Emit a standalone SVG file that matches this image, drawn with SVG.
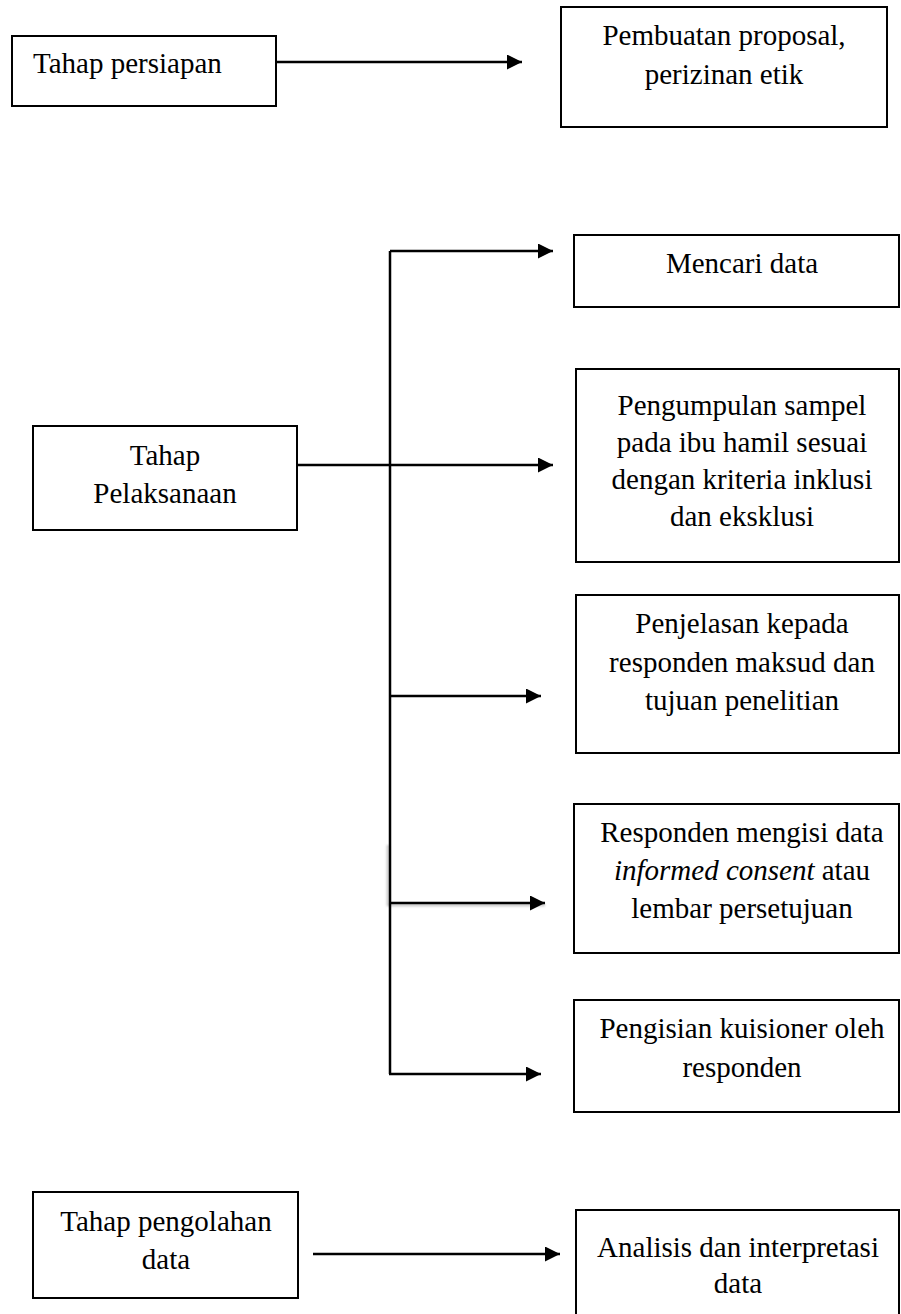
<svg xmlns="http://www.w3.org/2000/svg" width="901" height="1314" viewBox="0 0 901 1314">
  <style>
    .box { fill: #ffffff; stroke: #000000; stroke-width: 2; }
    .lbl { font-family: "Liberation Serif", "Times New Roman", serif; font-size: 29px; fill: #000000; }
    .mid { text-anchor: middle; }
    .wire { fill: none; stroke: #000000; stroke-width: 2.5; }
    .shadow { fill: none; stroke: #9a9a9a; stroke-width: 2.5; opacity: 0.6; }
  </style>
  <defs>
    <marker id="head" viewBox="0 0 15 15" refX="15" refY="7.5" markerWidth="15" markerHeight="15" markerUnits="userSpaceOnUse" orient="auto">
      <path d="M0,0 L15,7.5 L0,15 Z" fill="#000000"/>
    </marker>
    <filter id="soft" x="-10%" y="-50%" width="120%" height="200%">
      <feGaussianBlur stdDeviation="1.2"/>
    </filter>
  </defs>

  <rect width="901" height="1314" fill="#ffffff"/>

  <!-- connectors -->
  <g id="connectors">
    <!-- faint shadow on the fourth branch -->
    <path class="shadow" filter="url(#soft)" d="M388,845 L388,905 L545,905"/>
    <!-- preparation stage -->
    <path class="wire" d="M276,62 L522,62" marker-end="url(#head)"/>
    <!-- implementation trunk -->
    <path class="wire" d="M390,251 L390,1074"/>
    <path class="wire" d="M390,251 L553,251" marker-end="url(#head)"/>
    <path class="wire" d="M297,465 L553,465" marker-end="url(#head)"/>
    <path class="wire" d="M390,696 L541,696" marker-end="url(#head)"/>
    <path class="wire" d="M390,903 L545,903" marker-end="url(#head)"/>
    <path class="wire" d="M389,1074 L541,1074" marker-end="url(#head)"/>
    <!-- data processing stage -->
    <path class="wire" d="M313,1254 L560,1254" marker-end="url(#head)"/>
  </g>

  <g id="tahap-persiapan">
    <rect class="box" x="12" y="36" width="264" height="70"/>
    <text class="lbl" x="33" y="73">Tahap persiapan</text>
  </g>

  <g id="pembuatan-proposal">
    <rect class="box" x="561" y="7" width="326" height="120"/>
    <text class="lbl mid" x="724" y="45">Pembuatan proposal,</text>
    <text class="lbl mid" x="724" y="84">perizinan etik</text>
  </g>

  <g id="tahap-pelaksanaan">
    <rect class="box" x="33" y="426" width="264" height="104"/>
    <text class="lbl mid" x="165" y="465">Tahap</text>
    <text class="lbl mid" x="165" y="503">Pelaksanaan</text>
  </g>

  <g id="mencari-data">
    <rect class="box" x="574" y="235" width="325" height="72"/>
    <text class="lbl mid" x="742" y="273">Mencari data</text>
  </g>

  <g id="pengumpulan-sampel">
    <rect class="box" x="576" y="369" width="323" height="193"/>
    <text class="lbl mid" x="742" y="415">Pengumpulan sampel</text>
    <text class="lbl mid" x="742" y="452">pada ibu hamil sesuai</text>
    <text class="lbl mid" x="742" y="489">dengan kriteria inklusi</text>
    <text class="lbl mid" x="742" y="526">dan eksklusi</text>
  </g>

  <g id="penjelasan">
    <rect class="box" x="576" y="595" width="323" height="158"/>
    <text class="lbl mid" x="742" y="633">Penjelasan kepada</text>
    <text class="lbl mid" x="742" y="672">responden maksud dan</text>
    <text class="lbl mid" x="742" y="710">tujuan penelitian</text>
  </g>

  <g id="informed-consent">
    <rect class="box" x="574" y="804" width="325" height="149"/>
    <text class="lbl mid" x="742" y="842">Responden mengisi data</text>
    <text class="lbl mid" x="742" y="880"><tspan font-style="italic">informed consent</tspan> atau</text>
    <text class="lbl mid" x="742" y="918">lembar persetujuan</text>
  </g>

  <g id="pengisian-kuisioner">
    <rect class="box" x="574" y="1000" width="325" height="112"/>
    <text class="lbl mid" x="742" y="1038">Pengisian kuisioner oleh</text>
    <text class="lbl mid" x="742" y="1077">responden</text>
  </g>

  <g id="tahap-pengolahan">
    <rect class="box" x="33" y="1192" width="265" height="106"/>
    <text class="lbl mid" x="166" y="1231">Tahap pengolahan</text>
    <text class="lbl mid" x="166" y="1269">data</text>
  </g>

  <g id="analisis">
    <rect class="box" x="576" y="1210" width="323" height="120"/>
    <text class="lbl mid" x="738" y="1257">Analisis dan interpretasi</text>
    <text class="lbl mid" x="738" y="1293">data</text>
  </g>
</svg>
